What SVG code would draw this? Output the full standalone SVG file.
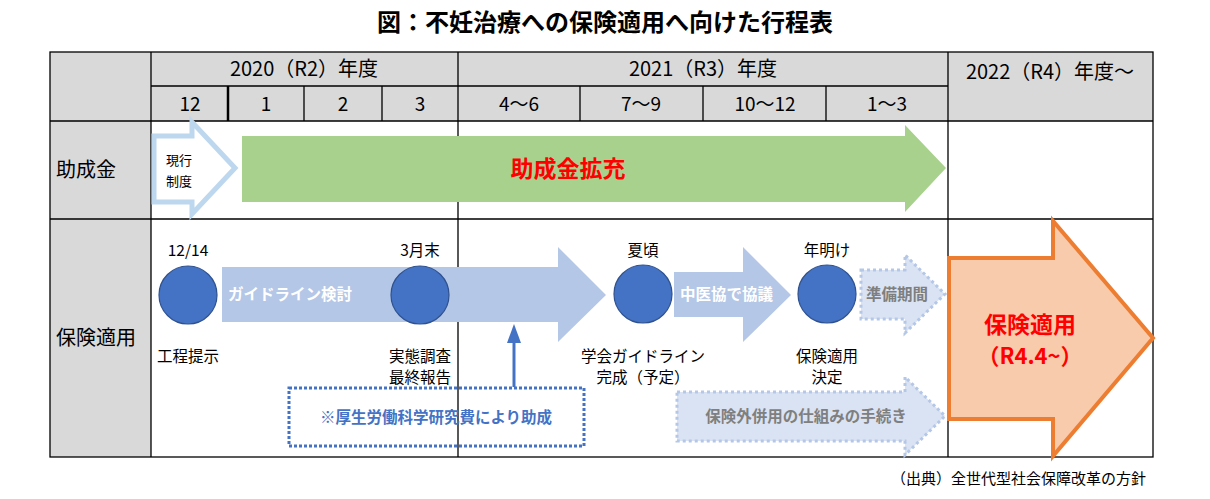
<svg xmlns="http://www.w3.org/2000/svg" width="1210" height="499" viewBox="0 0 1210 499">
<style>
text{font-family:"Noto Sans CJK JP","Noto Sans",sans-serif;fill:#000}
.hd{font-size:20px;text-anchor:middle}
.mo{font-size:19px;text-anchor:middle}
.lb{font-size:20px}
.sm{font-size:15.5px;text-anchor:middle}
.wb{font-size:15.5px;font-weight:bold;fill:#fff}
.gb{font-size:15.5px;font-weight:bold;fill:#7f7f7f}
.ln{stroke:#000;stroke-width:1.3;fill:none}
.dot{fill:#4472c4;stroke:#2f528f;stroke-width:1.2}
.lba{fill:#b4c7e7}
.dash{fill:#dae3f3;stroke:#b4c7e7;stroke-width:3;stroke-dasharray:3 3}
</style>
<rect width="1210" height="499" fill="#fff"/>
<text x="605" y="31" font-size="24" font-weight="bold" text-anchor="middle">図：不妊治療への保険適用へ向けた行程表</text>
<g id="table">
<rect x="50" y="52" width="1103" height="69" fill="#d9d9d9"/>
<rect x="50" y="121" width="101" height="336" fill="#d9d9d9"/>
<rect x="50" y="52" width="1103" height="405" class="ln"/>
<path class="ln" d="M151,86H948M50,121H1153M50,219H1153M151,52V457M458,52V457M948,52V457M304,86V121M382,86V121M580,86V121M703,86V121M826,86V121"/>
<path d="M228,86V121" stroke="#000" stroke-width="2.5"/>
<text class="hd" x="304" y="76">2020（R2）年度</text>
<text class="hd" x="703" y="76">2021（R3）年度</text>
<text class="hd" x="1050" y="79">2022（R4）年度〜</text>
<text class="mo" x="190" y="111">12</text>
<text class="mo" x="266" y="111">1</text>
<text class="mo" x="343" y="111">2</text>
<text class="mo" x="420" y="111">3</text>
<text class="mo" x="519" y="111">4〜6</text>
<text class="mo" x="641" y="111">7〜9</text>
<text class="mo" x="765" y="111">10〜12</text>
<text class="mo" x="887" y="111">1〜3</text>
<text class="lb" x="56" y="177">助成金</text>
<text class="lb" x="56" y="345">保険適用</text>
</g>
<g id="current-system">
<polygon points="154,136 192,136 192,122 235,168 192,214 192,202 154,202" fill="#fff" stroke="#bdd7ee" stroke-width="5"/>
<text x="166" y="165" font-size="13">現行</text>
<text x="166" y="186" font-size="13">制度</text>
</g>
<g id="subsidy-expansion">
<polygon points="242,136 905,136 905,125 946,168 905,212 905,202 242,202" fill="#a9d18e"/>
<text x="568" y="177" font-size="23" font-weight="bold" text-anchor="middle" style="fill:#ff0000">助成金拡充</text>
</g>
<g id="guideline-study">
<polygon class="lba" points="222,267 558,267 558,247 606,295 558,342 558,322 222,322"/>
<text class="wb" x="228" y="300">ガイドライン検討</text>
</g>
<g id="chuikyo">
<polygon class="lba" points="674,272 743,272 743,247 791,295 743,342 743,317 674,317"/>
<text class="wb" x="680" y="300">中医協で協議</text>
</g>
<g id="preparation">
<polygon class="dash" points="861,270 905,270 905,255 945,294 905,333 905,319 861,319"/>
<text class="gb" x="866" y="300">準備期間</text>
</g>
<g id="mixed-care">
<polygon class="dash" points="677,392 905,392 905,377 945,416 905,455 905,441 677,441"/>
<text class="gb" x="806" y="422" text-anchor="middle">保険外併用の仕組みの手続き</text>
</g>
<g id="node-1214">
<circle class="dot" cx="188" cy="295" r="29"/>
<text class="sm" x="188" y="256">12/14</text>
<text class="sm" x="188" y="362">工程提示</text>
</g>
<g id="node-march">
<circle class="dot" cx="420" cy="295" r="29"/>
<text class="sm" x="420" y="256">3月末</text>
<text class="sm" x="420" y="362">実態調査</text>
<text class="sm" x="420" y="383">最終報告</text>
</g>
<g id="node-summer">
<circle class="dot" cx="643" cy="294" r="29"/>
<text class="sm" x="643" y="256">夏頃</text>
<text class="sm" x="643" y="362">学会ガイドライン</text>
<text class="sm" x="643" y="383">完成（予定）</text>
</g>
<g id="node-newyear">
<circle class="dot" cx="827" cy="294" r="29"/>
<text class="sm" x="827" y="256">年明け</text>
<text class="sm" x="827" y="362">保険適用</text>
<text class="sm" x="827" y="383">決定</text>
</g>
<g id="research-grant">
<rect x="289" y="388" width="295" height="58" fill="none" stroke="#4472c4" stroke-width="3" stroke-dasharray="3 2"/>
<text x="436" y="423" font-size="15.5" font-weight="bold" text-anchor="middle" style="fill:#4472c4">※厚生労働科学研究費により助成</text>
</g>
<g id="insurance-application">
<polygon points="949,258 1053,258 1053,221 1153,338 1053,456 1053,419 949,419" fill="#f8cbad" stroke="#ed7d31" stroke-width="4" stroke-linejoin="miter"/>
<text x="1030" y="333" font-size="23" font-weight="bold" text-anchor="middle" style="fill:#ff0000">保険適用</text>
<text x="1030" y="364" font-size="22" font-weight="bold" text-anchor="middle" style="fill:#ff0000">（R4.4~）</text>
</g>
<g id="connectors">
<path d="M514,387V340" stroke="#4472c4" stroke-width="3"/>
<polygon points="507,343 521,343 514,324" fill="#4472c4"/>
</g>
<text x="1146" y="484" font-size="15" text-anchor="end">（出典）全世代型社会保障改革の方針</text>
</svg>
